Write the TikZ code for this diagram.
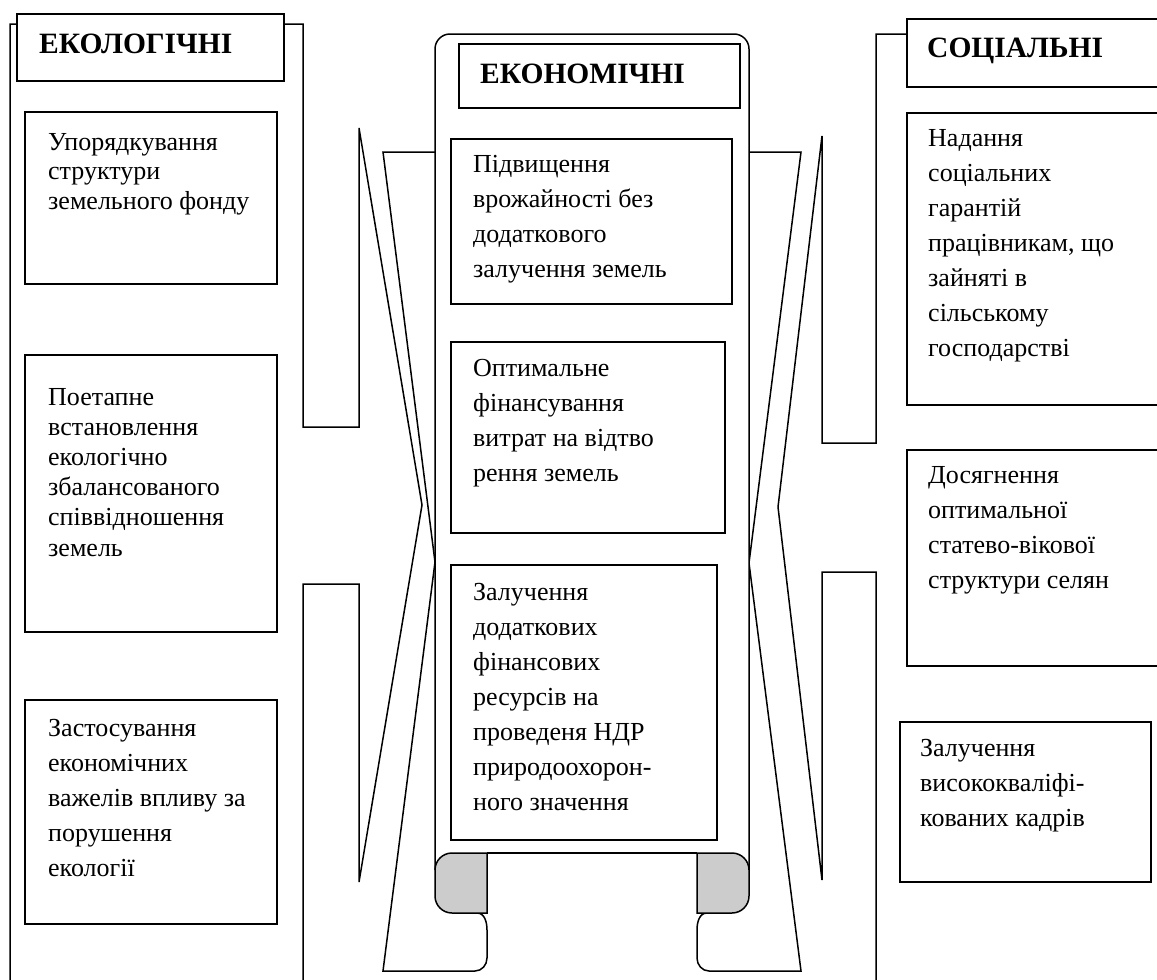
\documentclass[tikz,border=0pt]{standalone}
\usepackage{fontspec}
\setmainfont{Liberation Serif}
\definecolor{rollgray}{HTML}{CCCCCC}
\begin{document}
\begin{tikzpicture}[x=1pt,y=-1pt,
  frame/.style={draw=black, line width=1.5pt, line join=miter},
  box/.style={draw=black, fill=white, line width=1.5pt},
  roll/.style={draw=black, fill=rollgray, line width=1.5pt},
  hdr/.style={anchor=base west, inner sep=0pt, font=\fontsize{29.5}{35}\selectfont\bfseries},
  txt/.style={anchor=base west, inner sep=0pt, font=\fontsize{26}{35}\selectfont},
  txtb/.style={anchor=base west, inner sep=0pt, font=\fontsize{26}{29.5}\selectfont},
  txtc/.style={anchor=base west, inner sep=0pt, font=\fontsize{26}{30.2}\selectfont}]
\clip (0,0) rectangle (1157,980);
% left panel (ribbon end)
\draw[frame] (10,990) -- (10,24) -- (303,24) -- (303,427) -- (359,427) -- (359,128) -- (422,505) -- (359,882) -- (359,584) -- (303,584) -- (303,990);
% right panel (ribbon end)
\draw[frame] (876,990) -- (876,572) -- (822,572) -- (822,880) -- (778,507) -- (822,136) -- (822,443) -- (876,443) -- (876,34) -- (1170,34);
% inner ribbon folds
\draw[frame] (435,152) -- (383,152) -- (435,562) -- (383,971) -- (475,971) to[out=0,in=-90] (487,958) -- (487,930) to[out=90,in=0] (477,913);
\draw[frame] (749,152) -- (801,152) -- (749,563) -- (801,971) -- (709,971) to[out=180,in=-90] (697,958) -- (697,930) to[out=90,in=180] (707,913);
% scroll body
\draw[frame, fill=white, rounded corners=15pt] (435,870) -- (435,34) -- (749,34) -- (749,870);
\draw[roll] (487,853) -- (452,853) to[out=180,in=90] (435,870) -- (435,896) to[out=-90,in=180] (452,913) -- (487,913) -- cycle;
\draw[roll] (697,853) -- (732,853) to[out=0,in=90] (749,870) -- (749,896) to[out=-90,in=0] (732,913) -- (697,913) -- cycle;
\draw[frame] (487,853) -- (697,853);
% header boxes
\draw[box] (17,14) rectangle (284,81);
\draw[box] (459,44) rectangle (740,108);
\draw[box] (907,19) rectangle (1170,87);
\node[hdr] (hl) at (39,53) {ЕКОЛОГІЧНІ};
\node[hdr] (hc) at (480,83) {ЕКОНОМІЧНІ};
\node[hdr] (hr) at (927,57) {СОЦІАЛЬНІ};
% left boxes
\draw[box] (25,112) rectangle (277,284);
\draw[box] (25,355) rectangle (277,632);
\draw[box] (25,700) rectangle (277,924);
\node[txtb] (l1) at (48,150) {\begin{tabular}[t]{@{}l@{}}Упорядкування\\структури\\земельного фонду\end{tabular}};
\node[txtc] (l2) at (48,405) {\begin{tabular}[t]{@{}l@{}}Поетапне\\встановлення\\екологічно\\збалансованого\\співвідношення\\земель\end{tabular}};
\node[txt] (l3) at (48,736) {\begin{tabular}[t]{@{}l@{}}Застосування\\економічних\\важелів впливу за\\порушення\\екології\end{tabular}};
% centre boxes
\draw[box] (451,139) rectangle (732,304);
\draw[box] (451,342) rectangle (725,533);
\draw[box] (451,565) rectangle (717,840);
\node[txt] (c1) at (473,172) {\begin{tabular}[t]{@{}l@{}}Підвищення\\врожайності без\\додаткового\\залучення земель\end{tabular}};
\node[txt] (c2) at (473,376) {\begin{tabular}[t]{@{}l@{}}Оптимальне\\фінансування\\витрат на відтво\\рення земель\end{tabular}};
\node[txt] (c3) at (473,600) {\begin{tabular}[t]{@{}l@{}}Залучення\\додаткових\\фінансових\\ресурсів на\\проведеня НДР\\природоохорон-\\ного значення\end{tabular}};
% right boxes
\draw[box] (907,113) rectangle (1170,405);
\draw[box] (907,450) rectangle (1170,666);
\draw[box] (900,722) rectangle (1151,882);
\node[txt] (r1) at (928,146) {\begin{tabular}[t]{@{}l@{}}Надання\\соціальних\\гарантій\\працівникам, що\\зайняті в\\сільському\\господарстві\end{tabular}};
\node[txt] (r2) at (928,483) {\begin{tabular}[t]{@{}l@{}}Досягнення\\оптимальної\\статево-вікової\\структури селян\end{tabular}};
\node[txt] (r3) at (920,756) {\begin{tabular}[t]{@{}l@{}}Залучення\\висококваліфі-\\кованих кадрів\end{tabular}};
\end{tikzpicture}
\end{document}
